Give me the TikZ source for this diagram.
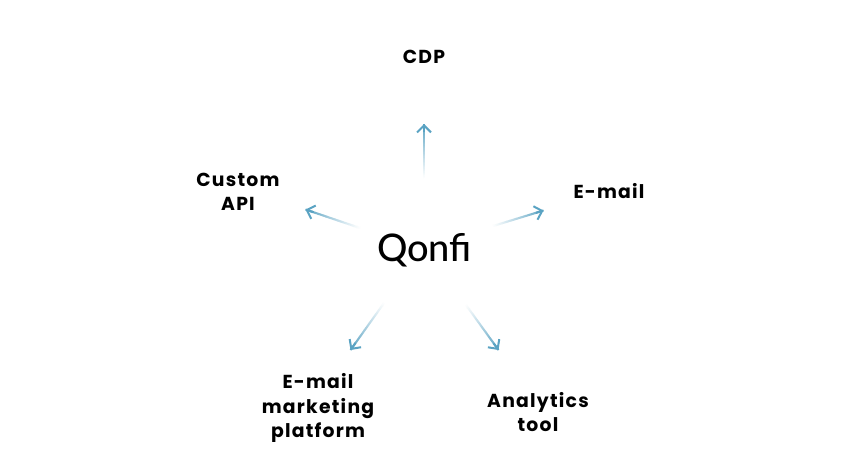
\documentclass[tikz,border=0pt]{standalone}
\usepackage{fontspec}
\setmainfont{Poppins}
\newfontfamily\labelfont[LetterSpace=6.5]{Poppins Bold}
\newfontfamily\logofont{Lato Medium}
\usetikzlibrary{calc,arrows.meta}
\definecolor{arrowblue}{HTML}{5AA3C3}
\tikzset{
  lbl/.style={font=\labelfont\fontsize{18.8}{24.5}\selectfont,align=center,text=black,inner sep=0pt},
  logo/.style={font=\logofont\fontsize{38}{38}\selectfont,text=black,inner sep=0pt},
  tipstyle/.style={draw=arrowblue,line width=2pt,-{Straight Barb[length=7pt,width=14pt,line width=2pt]}}
}
\newcommand{\fadearrow}[2]{%
  \foreach \i in {1,...,40}{%
    \pgfmathsetmacro{\a}{(\i-1)/40}%
    \pgfmathsetmacro{\b}{min(1,(\i+0.3)/40)}%
    \pgfmathsetmacro{\p}{100*(\i/40)^1.1}%
    \draw[line width=2pt,color=arrowblue!\p!white] ($(#1)!\a!(#2)$) -- ($(#1)!\b!(#2)$);
  }%
  \draw[tipstyle] ($(#1)!0.85!(#2)$) -- (#2);
}
\begin{document}
\begin{tikzpicture}[x=1pt,y=-1pt]
\useasboundingbox (0,0) rectangle (864,472);
\fill[white] (0,0) rectangle (864,472);
\node[logo] (hub) at (424.5,250) {Qonfi};
\node[lbl] (cdp) at (424,57) {CDP};
\node[lbl] (email) at (609,191.5) {E-mail};
\node[lbl] (api) at (238,192) {Custom\\API};
\node[lbl] (mkt) at (318,408) {E-mail\\marketing\\platform};
\node[lbl] (tool) at (538,412) {Analytics\\tool};
\coordinate (s1) at (424,178); \coordinate (t1) at (424,124);
\coordinate (s2) at (493,226); \coordinate (t2) at (543.5,210.5);
\coordinate (s3) at (360,228); \coordinate (t3) at (305.5,209.5);
\coordinate (s4) at (384,303); \coordinate (t4) at (350.5,350);
\coordinate (s5) at (466,305); \coordinate (t5) at (498.5,350);
\fadearrow{s1}{t1}
\fadearrow{s2}{t2}
\fadearrow{s3}{t3}
\fadearrow{s4}{t4}
\fadearrow{s5}{t5}
\end{tikzpicture}
\end{document}
